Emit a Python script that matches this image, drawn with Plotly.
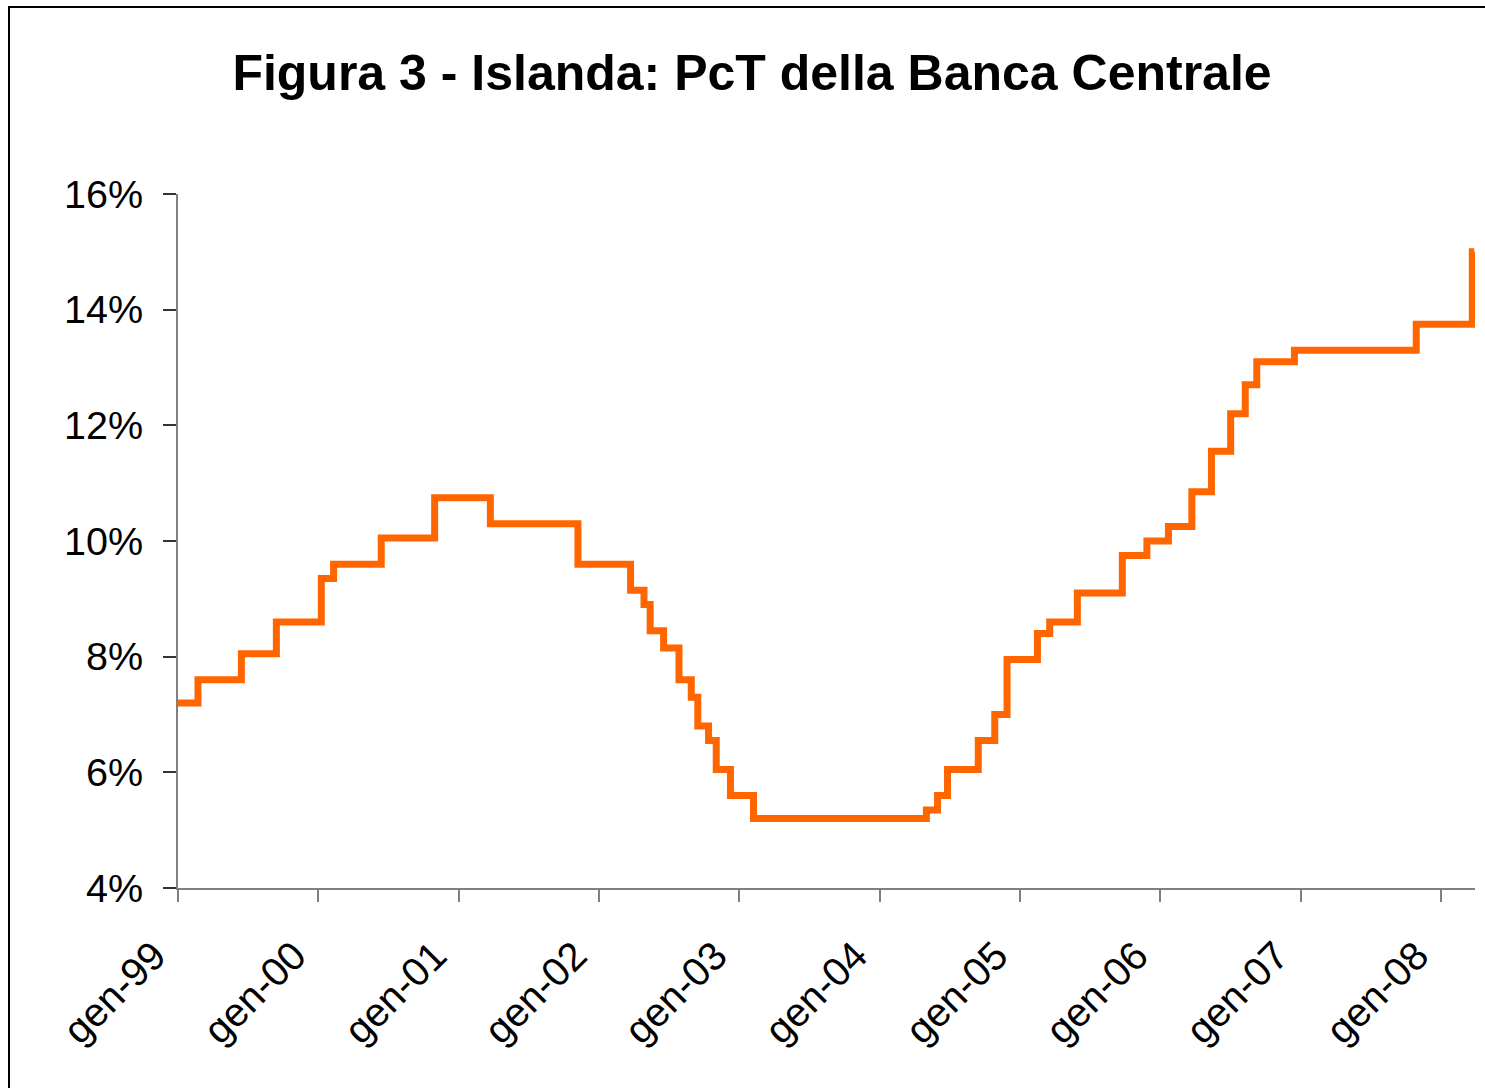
import plotly.graph_objects as go

# Step dates (policy rate changes) and levels (%)
dates = ["1999-01-01", "1999-02-22", "1999-06-15", "1999-09-14", "2000-01-09", "2000-02-10",
         "2000-06-13", "2000-10-30", "2001-03-24", "2001-11-07", "2002-03-24", "2002-04-28",
         "2002-05-14", "2002-06-18", "2002-07-28", "2002-08-29", "2002-09-15", "2002-10-13",
         "2002-11-02", "2002-12-09", "2003-02-07", "2004-05-02", "2004-05-31", "2004-06-26",
         "2004-09-14", "2004-10-27", "2004-11-28", "2005-02-15", "2005-03-19", "2005-05-30",
         "2005-09-24", "2005-11-27", "2006-01-22", "2006-03-24", "2006-05-14", "2006-07-03",
         "2006-08-10", "2006-09-09", "2006-12-16", "2007-10-29", "2008-03-23", "2008-03-28"]
rates = [7.2, 7.6, 8.05, 8.6, 9.35, 9.6,
         10.05, 10.75, 10.3, 9.6, 9.15, 8.9,
         8.45, 8.15, 7.6, 7.3, 6.8, 6.55,
         6.05, 5.6, 5.2, 5.35, 5.6, 6.05,
         6.55, 7.0, 7.95, 8.4, 8.6, 9.1,
         9.75, 10.0, 10.25, 10.85, 11.55, 12.2,
         12.7, 13.1, 13.3, 13.75, 15.0, 15.0]

tick_dates = ["1999-01-01", "2000-01-01", "2001-01-01", "2002-01-01", "2003-01-01",
              "2004-01-01", "2005-01-01", "2006-01-01", "2007-01-01", "2008-01-01"]
tick_labels = ["gen-99", "gen-00", "gen-01", "gen-02", "gen-03",
               "gen-04", "gen-05", "gen-06", "gen-07", "gen-08"]
y_ticks = [4, 6, 8, 10, 12, 14, 16]
y_labels = ["4%", "6%", "8%", "10%", "12%", "14%", "16%"]

title = "Figura 3 - Islanda: PcT della Banca Centrale"

fig = go.Figure()
fig.add_trace(go.Scatter(
    x=dates, y=rates, mode="lines", line_shape="hv",
    line=dict(color="#FF6600", width=7), showlegend=False,
))

L, R, T, B = 178, 10, 194, 200
W, H = 1485, 1088
pw = W - L - R
ph = H - T - B

fig.update_layout(
    width=W, height=H,
    margin=dict(l=L, r=R, t=T, b=B),
    paper_bgcolor="white", plot_bgcolor="white",
    font=dict(family="Liberation Sans, Arial, sans-serif", color="black", size=36),
    title=dict(text="<b>" + title + "</b>", x=752 / W, xanchor="center",
               y=1 - 72 / H, yanchor="middle", yref="container",
               font=dict(size=50, color="black", family="Liberation Sans, Arial, sans-serif")),
    xaxis=dict(
        type="date", range=["1999-01-01", "2008-03-30"],
        tickvals=tick_dates, ticktext=tick_labels, tickangle=-45,
        showgrid=False, zeroline=False, showline=True, linecolor="#808080", linewidth=2,
        ticks="outside", ticklen=12, tickcolor="#808080", tickwidth=2,
        tickfont=dict(size=40), ticklabelstandoff=14, ticklabelshift=-24,
    ),
    yaxis=dict(
        range=[4, 16], tickvals=y_ticks, ticktext=y_labels,
        showgrid=False, zeroline=False, showline=True, linecolor="#808080", linewidth=2,
        ticks="outside", ticklen=13, tickcolor="#333333", tickwidth=2,
        tickfont=dict(size=39.5), ticklabelstandoff=12,
    ),
    shapes=[dict(type="rect", xref="paper", yref="paper",
                 x0=(9 - L) / pw, x1=1.2, y0=-0.6, y1=(H - B - 7) / ph,
                 line=dict(color="black", width=2), fillcolor="rgba(0,0,0,0)", layer="below")],
)

fig.write_html("out.html", config={"displayModeBar": False},
               post_script="document.body.style.margin='0';document.body.style.overflow='hidden';")
